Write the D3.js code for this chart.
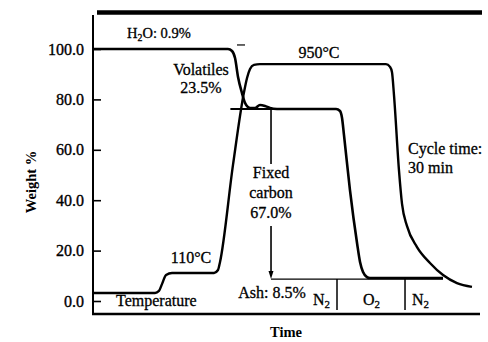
<!DOCTYPE html>
<html>
<head>
<meta charset="utf-8">
<script src="https://cdn.jsdelivr.net/npm/d3@7"></script>
<style>
  html, body { margin: 0; padding: 0; background: #fff; }
  svg { display: block; }
  text { font-family: "Liberation Serif", "Times New Roman", serif; fill: #000; }
</style>
</head>
<body>
<svg id="chart" width="488" height="342"></svg>
<script>
// ---- data (time in min, value in weight % / relative temperature) ----
const yTicks = [0, 20, 40, 60, 80, 100];
const yTickLabels = ["0.0", "20.0", "40.0", "60.0", "80.0", "100.0"];

const weightTime  = [0, 13.95, 14.37, 14.68, 14.99, 15.40, 15.71, 16.23, 16.74, 17.26, 17.78, 18.29, 19.02, 25.12, 25.53, 25.74, 25.94, 26.56, 27.29, 27.60, 27.91, 28.32, 28.63, 36.18];
const weightValue = [100, 100, 99.2, 96.4, 88.9, 82.5, 78.6, 76.6, 76.6, 77.8, 77.4, 76.6, 76.2, 76.2, 75.4, 72.6, 65.9, 44.0, 23.0, 15.5, 11.5, 9.5, 9.1, 9.1];

const tempTime  = [0, 6.41, 6.82, 7.13, 7.55, 8.17, 12.51, 12.92, 13.13, 14.47, 15.61, 15.92, 16.23, 16.64, 17.26, 30.28, 30.70, 30.90, 31.11, 31.63, 31.94, 32.45, 33.49, 34.83, 36.18, 37.62, 39.17];
const tempValue = [3.2, 3.2, 4.0, 6.7, 10.3, 11.1, 11.1, 12.3, 15.5, 54.0, 82.9, 88.5, 92.1, 93.7, 94.0, 94.0, 92.9, 90.9, 81.7, 51.6, 38.5, 29.8, 21.4, 15.1, 10.3, 7.1, 5.6];

// annotation values
const volatilesLevel = 76.2;   // level after volatiles loss
const ashLevel = 8.7;          // ash base line
const arrowTime = 18.4;        // fixed-carbon arrow
const refLineStart = 14.2;
const refLineEnd = 25.12;
const gasSwitchTimes = [25.22, 32.25]; // N2 | O2 | N2
const ashLineEnd = 36.18;
const moistureMark = [14.88, 15.71];
const moistureLevel = 101.6;

// ---- layout ----
const svg = d3.select("#chart");
const x = d3.scaleLinear().domain([0, 40]).range([93, 480]);
const y = d3.scaleLinear().domain([0, 100]).range([301, 49]);
const plotLeft = 93, plotBottom = 314, plotTop = 15, plotRight = 480;

const FS = 16;

// frame
svg.append("line").attr("x1", plotLeft).attr("x2", plotLeft).attr("y1", plotTop).attr("y2", plotBottom)
  .attr("stroke", "#000").attr("stroke-width", 2);
svg.append("line").attr("x1", plotLeft - 1).attr("x2", plotRight).attr("y1", plotBottom).attr("y2", plotBottom)
  .attr("stroke", "#000").attr("stroke-width", 2.5);
svg.append("line").attr("x1", plotLeft + 4).attr("x2", 482).attr("y1", 12.5).attr("y2", 12.5)
  .attr("stroke", "#000").attr("stroke-width", 4.5);

// y axis
const yAxis = d3.axisLeft(y).tickValues(yTicks)
  .tickFormat((d, i) => yTickLabels[i])
  .tickSizeInner(-8).tickSizeOuter(0).tickPadding(9);
const gy = svg.append("g").attr("transform", `translate(${plotLeft},0)`).call(yAxis);
gy.select(".domain").remove();
gy.selectAll(".tick line").attr("stroke", "#000").attr("stroke-width", 1.6);
gy.selectAll(".tick text").attr("font-family", "Liberation Serif, serif").attr("font-size", FS)
  .attr("fill", "#000").attr("stroke", "#000").attr("stroke-width", 0.35);

// axis titles
svg.append("text").attr("transform", "translate(36,182) rotate(-90)").attr("text-anchor", "middle")
  .attr("font-size", 14.5).attr("font-weight", "bold").text("Weight %");
svg.append("text").attr("x", 286).attr("y", 337).attr("text-anchor", "middle")
  .attr("font-size", 14.5).attr("font-weight", "bold").text("Time");

// curves
const line = d3.line().x(d => x(d[0])).y(d => y(d[1])).curve(d3.curveMonotoneX);
const weightData = weightTime.map((t, i) => [t, weightValue[i]]);
const tempData = tempTime.map((t, i) => [t, tempValue[i]]);

// thin reference lines
svg.append("line").attr("x1", x(refLineStart)).attr("x2", x(refLineEnd))
  .attr("y1", y(volatilesLevel)).attr("y2", y(volatilesLevel)).attr("stroke", "#000").attr("stroke-width", 1.8);
svg.append("line").attr("x1", x(arrowTime)).attr("x2", x(ashLineEnd))
  .attr("y1", y(ashLevel)).attr("y2", y(ashLevel)).attr("stroke", "#000").attr("stroke-width", 1.3);
svg.append("line").attr("x1", x(moistureMark[0])).attr("x2", x(moistureMark[1]))
  .attr("y1", y(moistureLevel)).attr("y2", y(moistureLevel)).attr("stroke", "#000").attr("stroke-width", 1.2);

gasSwitchTimes.forEach(t => {
  svg.append("line").attr("x1", x(t)).attr("x2", x(t)).attr("y1", y(ashLevel)).attr("y2", 310)
    .attr("stroke", "#000").attr("stroke-width", 1.5);
});

// fixed carbon arrow
svg.append("line").attr("x1", x(arrowTime)).attr("x2", x(arrowTime))
  .attr("y1", y(volatilesLevel)).attr("y2", 164).attr("stroke", "#000").attr("stroke-width", 1.6);
svg.append("line").attr("x1", x(arrowTime)).attr("x2", x(arrowTime))
  .attr("y1", 226).attr("y2", y(ashLevel) - 6).attr("stroke", "#000").attr("stroke-width", 1.6);
svg.append("path")
  .attr("d", `M${x(arrowTime) - 2.5},${y(ashLevel) - 8} L${x(arrowTime) + 2.5},${y(ashLevel) - 8} L${x(arrowTime)},${y(ashLevel)} Z`)
  .attr("fill", "#000");

svg.append("path").datum(tempData).attr("d", line).attr("fill", "none")
  .attr("stroke", "#000").attr("stroke-width", 2.4).attr("stroke-linejoin", "round");
svg.append("path").datum(weightData).attr("d", line).attr("fill", "none")
  .attr("stroke", "#000").attr("stroke-width", 2.6).attr("stroke-linejoin", "round");

// annotations
function label(xp, yp, txt, anchor, size) {
  return svg.append("text").attr("x", xp).attr("y", yp).attr("text-anchor", anchor || "start")
    .attr("font-size", size || FS).attr("stroke", "#000").attr("stroke-width", 0.3).text(txt);
}
function subLabel(xp, yp, a, sub, b, anchor, size) {
  const fs = size || FS;
  const t = svg.append("text").attr("x", xp).attr("y", yp).attr("text-anchor", anchor || "start")
    .attr("font-size", fs).attr("stroke", "#000").attr("stroke-width", 0.3);
  t.append("tspan").text(a);
  t.append("tspan").attr("font-size", fs * 0.68).attr("dy", 3).text(sub);
  t.append("tspan").attr("dy", -3).text(b);
  return t;
}

subLabel(127, 38, "H", "2", "O: 0.9%", "start", 14.5);
label(201, 75, "Volatiles", "middle");
label(201, 93, "23.5%", "middle");
label(319, 58, "950°C", "middle");
label(191, 263, "110°C", "middle");
label(116, 306, "Temperature", "start");
label(408, 154, "Cycle time:", "start");
label(408, 173, "30 min", "start");
label(x(arrowTime), 178, "Fixed", "middle");
label(x(arrowTime), 198, "carbon", "middle");
label(x(arrowTime), 218, "67.0%", "middle");
label(272, 298, "Ash: 8.5%", "middle");
subLabel(313, 305, "N", "2", "", "start");
subLabel(363, 305, "O", "2", "", "start");
subLabel(412, 305, "N", "2", "", "start");
</script>
</body>
</html>
